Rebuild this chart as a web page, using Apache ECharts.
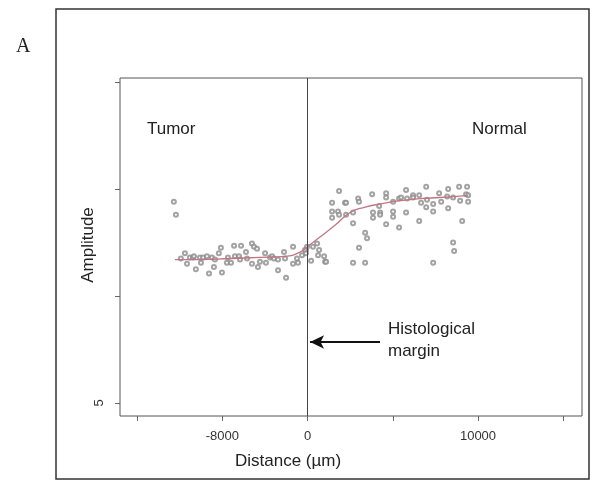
<!DOCTYPE html>
<html>
<head>
<meta charset="utf-8">
<script src="https://cdn.jsdelivr.net/npm/echarts@6/dist/echarts.min.js"></script>
<style>
html,body{margin:0;padding:0;background:#fff;}
#demo{width:597px;height:487px;}
</style>
</head>
<body>
<div id="demo"></div>
<script>
// measured points [distance um, amplitude]
var tumorPoints = [
    [-7840,6.88],[-7720,6.76],[-7430,6.35],[-7190,6.40],[-7070,6.30],[-6900,6.36],[-6720,6.36],
    [-6550,6.25],[-6660,6.37],[-6310,6.36],[-6250,6.31],[-6130,6.36],[-5900,6.37],[-5780,6.21],
    [-5610,6.36],[-5490,6.27],[-5430,6.34],[-5200,6.40],[-5080,6.45],[-5020,6.22],[-4730,6.31],
    [-4670,6.36],[-4490,6.31],[-4310,6.47],[-4260,6.37],[-4020,6.37],[-3960,6.34],[-3900,6.47],
    [-3610,6.41],[-3550,6.35],[-3260,6.49],[-3140,6.46],[-2960,6.44],[-3260,6.30],[-2910,6.27],
    [-2790,6.32],[-2490,6.40],[-2440,6.31],[-2200,6.36],[-2080,6.37],[-1970,6.35],[-1730,6.24],
    [-1730,6.34],[-1380,6.41],[-1320,6.35],[-1260,6.17],[-850,6.46],[-850,6.30],[-620,6.35],
    [-560,6.31],[-320,6.38],[-90,6.43],[-30,6.46],[210,6.33]
];
var normalPoints = [
    [-150,6.43],[-90,6.40],[320,6.46],[560,6.49],[680,6.43],[620,6.38],[970,6.37],[1030,6.32],
    [1090,6.32],[1440,6.87],[1440,6.79],[1440,6.73],[1850,6.98],[1790,6.79],[1850,6.76],
    [2200,6.87],[2260,6.87],[2260,6.76],[2670,6.78],[2670,6.68],[2670,6.31],[2970,6.91],
    [3020,6.88],[3020,6.45],[3380,6.59],[3490,6.54],[3380,6.31],[3790,6.95],[3840,6.78],
    [3840,6.73],[4200,6.84],[4260,6.78],[4260,6.76],[4610,6.96],[4610,6.92],[4610,6.67],
    [5020,6.88],[5020,6.79],[5020,6.74],[5370,6.91],[5370,6.64],[5490,6.92],[5780,6.99],
    [5780,6.78],[5840,6.91],[6190,6.94],[6190,6.92],[6550,6.94],[6550,6.70],[6660,6.87],
    [6960,7.02],[6960,6.83],[7010,6.90],[7370,6.86],[7370,6.79],[7370,6.31],[7720,6.96],
    [7840,6.88],[8190,6.93],[8250,7.00],[8250,6.82],[8540,6.50],[8600,6.42],[8540,6.92],
    [8890,7.02],[8950,6.89],[9070,6.70],[9300,6.95],[9360,7.02],[9420,6.94],[9420,6.88]
];
// smoothed fit
var fitCurve = [
    [-7780,6.34],[-6310,6.34],[-4550,6.35],[-2790,6.36],[-1320,6.37],[-440,6.41],[150,6.48],
    [730,6.55],[1610,6.66],[2500,6.78],[3380,6.83],[4260,6.86],[5430,6.89],[6600,6.91],
    [7780,6.92],[9420,6.94]
];
var xTickValues = [-10000,-5000,0,5000,10000,15000];
var xLabelValues = [-5000,0,10000];
var xLabelTexts = ['-8000','0','10000'];
var yTickValues = [5,6,7,8];
var yLabelValues = [5];

var myChart = echarts.init(document.getElementById('demo'));
var option = {
    animation: false,
    grid: {
        left: 120, right: 15, top: 78, bottom: 71,
        show: true, borderColor: '#555', borderWidth: 1
    },
    xAxis: {
        type: 'value',
        min: -11000, max: 16100,
        splitLine: {show: false},
        axisLine: {show: false, onZero: false},
        axisTick: {show: true, inside: false, length: 5, customValues: xTickValues,
            lineStyle: {color: '#666'}},
        axisLabel: {
            customValues: xLabelValues, margin: 14,
            color: '#333', fontFamily: 'Liberation Sans', fontSize: 13,
            formatter: function(v){
                var i = xLabelValues.indexOf(v);
                return i >= 0 ? xLabelTexts[i] : '';
            }
        }
    },
    yAxis: {
        type: 'value',
        min: 4.878, max: 8.037,
        splitLine: {show: false},
        axisLine: {show: false, onZero: false},
        axisTick: {show: true, inside: false, length: 5, customValues: yTickValues,
            lineStyle: {color: '#666'}},
        axisLabel: {
            customValues: yLabelValues, rotate: 90, margin: 14,
            color: '#333', fontFamily: 'Liberation Sans', fontSize: 13
        }
    },
    graphic: [
        {type: 'rect', shape: {x: 56, y: 9, width: 533, height: 470},
            style: {fill: 'none', stroke: '#333', lineWidth: 1.5}, z: -1},
        {type: 'text', left: 16, top: 37,
            style: {text: 'A', fontFamily: 'Liberation Serif', fontSize: 20, fill: '#222'}},
        {type: 'text', left: 147, top: 121,
            style: {text: 'Tumor', fontFamily: 'Liberation Sans', fontSize: 17, fill: '#222'}},
        {type: 'text', left: 472, top: 121,
            style: {text: 'Normal', fontFamily: 'Liberation Sans', fontSize: 17, fill: '#222'}},
        {type: 'text', left: 388, top: 318,
            style: {text: 'Histological\nmargin', fontFamily: 'Liberation Sans', fontSize: 17,
                lineHeight: 22, fill: '#222'}},
        {type: 'text', left: 235, top: 453,
            style: {text: 'Distance (\u00b5m)', fontFamily: 'Liberation Sans', fontSize: 17, fill: '#222'}},
        {type: 'text', x: 88, y: 245, rotation: Math.PI / 2,
            style: {text: 'Amplitude', fontFamily: 'Liberation Sans', fontSize: 17, fill: '#222',
                align: 'center', verticalAlign: 'middle'}}
    ],
    series: [
        {
            name: 'tumor', type: 'scatter', symbol: 'emptyCircle', symbolSize: 4,
            itemStyle: {color: '#8c8c8c', borderWidth: 0.8},
            data: tumorPoints,
            markLine: {
                silent: true, symbol: ['none','none'], animation: false,
                label: {show: false},
                lineStyle: {color: '#444', width: 1, type: 'solid'},
                data: [
                    {xAxis: 0},
                    [
                        {coord: [4250, 5.57], symbol: 'none', lineStyle: {color: '#111', width: 2}},
                        {coord: [150, 5.57], symbol: 'arrow', symbolSize: [10, 14]}
                    ]
                ]
            }
        },
        {
            name: 'normal', type: 'scatter', symbol: 'emptyCircle', symbolSize: 4,
            itemStyle: {color: '#8c8c8c', borderWidth: 0.8},
            data: normalPoints
        },
        {
            name: 'fit', type: 'line', smooth: true, showSymbol: false,
            lineStyle: {color: '#c27582', width: 1.3},
            data: fitCurve, z: 3
        }
    ]
};
myChart.setOption(option, true);
</script>
</body>
</html>
